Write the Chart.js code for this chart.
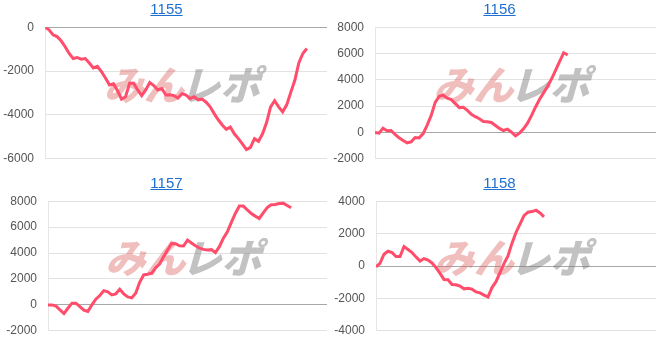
<!DOCTYPE html>
<html>
<head>
<meta charset="utf-8">
<script src="https://cdn.jsdelivr.net/npm/chart.js@4.4.0/dist/chart.umd.min.js"></script>
<style>
body{margin:0;background:#fff;font-family:Arial,"Liberation Sans",sans-serif}
#wrap{position:relative;width:666px;height:341px;overflow:hidden}
.panel{position:absolute;width:333px;height:171px}
.panel a{position:absolute;left:0;width:333px;text-align:center;color:#1f6fd0;font-size:15px;line-height:17px;text-decoration:underline;z-index:2}
.box{position:absolute;left:0;width:333px}
</style>
</head>
<body>
<div id="wrap">
  <div class="panel" style="left:0;top:0"><div class="box" style="top:9px;height:168px"><canvas id="c0"></canvas></div><a href="#" id="t0" style="top:0"></a></div>
  <div class="panel" style="left:333px;top:0"><div class="box" style="top:9px;height:168px"><canvas id="c1"></canvas></div><a href="#" id="t1" style="top:0"></a></div>
  <div class="panel" style="left:0;top:170px"><div class="box" style="top:13px;height:166px"><canvas id="c2"></canvas></div><a href="#" id="t2" style="top:4px"></a></div>
  <div class="panel" style="left:333px;top:170px"><div class="box" style="top:13px;height:166px"><canvas id="c3"></canvas></div><a href="#" id="t3" style="top:4px"></a></div>
</div>
<script>
const titles = ['1155', '1156', '1157', '1158'];

const v1155 = [0, -120, -350, -430, -620, -890, -1200, -1430, -1380, -1460,
  -1430, -1630, -1860, -1780, -2020, -2320, -2630, -2580, -2900, -3280,
  -3170, -2550, -2550, -2860, -3120, -2860, -2520, -2660, -2860, -2800,
  -3090, -3080, -3120, -3230, -3030, -3090, -3260, -3170, -3310, -3280,
  -3420, -3630, -3940, -4220, -4460, -4660, -4550, -4860, -5080, -5320,
  -5580, -5480, -5080, -5200, -4860, -4350, -3630, -3350, -3630, -3860,
  -3540, -2970, -2430, -1630, -1200, -970];

const v1156 = [0, -50, 330, 130, 150, -150, -410, -610, -790, -710,
  -380, -410, -80, 560, 1300, 2290, 2750, 2830, 2600, 2500,
  2190, 1890, 1910, 1680, 1380, 1200, 1040, 840, 820, 760,
  530, 310, 150, 250, 30, -250, -50, 280, 710, 1300,
  1940, 2520, 3010, 3520, 4080, 4740, 5400, 6060, 5890];

const v1157 = [0, 0, -100, -380, -670, -260, 130, 130, -130, -410,
  -510, 0, 440, 720, 1100, 1000, 770, 850, 1200, 850,
  620, 540, 900, 1740, 2310, 2360, 2440, 2870, 3150, 3720,
  4230, 4740, 4720, 4560, 4540, 5000, 4770, 4560, 4380, 4280,
  4230, 4260, 4030, 4490, 5150, 5640, 6360, 7050, 7620, 7620,
  7330, 7050, 6850, 6670, 7100, 7510, 7720, 7740, 7820, 7850,
  7670, 7490];

const v1158 = [-50, 170, 730, 910, 830, 580, 580, 1200, 1020, 830,
  560, 310, 460, 370, 190, -100, -460, -830, -850, -1140,
  -1160, -1240, -1410, -1370, -1430, -1600, -1660, -1800, -1910, -1330,
  -970, -410, 150, 620, 1410, 2070, 2590, 3110, 3320, 3360,
  3440, 3270, 3030];

const series = [v1155, v1156, v1157, v1158];
const yMins = [-6000, -2000, -2000, -4000];
const yMaxs = [0, 8000, 8000, 4000];
const xSlots = 70;

// faint logo behind the line
const watermark = {
    id: 'watermark',
    beforeDatasetsDraw(chart) {
        const { ctx, chartArea: a } = chart;
        const cx = (a.left + a.right) / 2;
        const cy = a.top + a.height * 0.44;
        ctx.save();
        ctx.font = '900 40px "Noto Sans CJK JP"';
        ctx.textBaseline = 'middle';
        const w1 = ctx.measureText('みん').width - 4;
        const w2 = ctx.measureText('レポ').width;
        ctx.translate(cx - (w1 + w2) / 2, cy);
        ctx.transform(1, 0, -0.28, 1, 0, 0);
        ctx.fillStyle = 'rgba(222,100,100,0.42)';
        ctx.fillText('みん', 0, 0);
        ctx.fillStyle = 'rgba(120,120,120,0.45)';
        ctx.fillText('レポ', w1, 0);
        ctx.restore();
    }
};

const axisWidths = [45, 42, 48, 43];
const padRight = [6, 10, 6, 10];

series.forEach((vals, i) => {
    document.getElementById('t' + i).textContent = titles[i];
    new Chart(document.getElementById('c' + i), {
        type: 'line',
        data: {
            datasets: [{
                data: vals.map((v, k) => ({ x: k, y: v })),
                borderColor: '#ff4d6b',
                borderWidth: 3,
                pointRadius: 0,
                tension: 0,
                fill: false
            }]
        },
        options: {
            responsive: true,
            maintainAspectRatio: false,
            animation: false,
            layout: { padding: { left: 0, right: padRight[i], top: 0, bottom: 0 } },
            plugins: { legend: { display: false }, tooltip: { enabled: false } },
            scales: {
                x: { type: 'linear', min: 0, max: xSlots, display: false },
                y: {
                    min: yMins[i],
                    max: yMaxs[i],
                    afterFit: (s) => { s.width = axisWidths[i]; },
                    ticks: {
                        stepSize: 2000,
                        padding: 11,
                        color: '#555',
                        format: { useGrouping: false },
                        font: { family: 'Arial, "Liberation Sans"', size: 12 }
                    },
                    grid: {
                        drawTicks: false,
                        color: (c) => c.tick && c.tick.value === 0 ? '#a8a8a8' : '#e2e2e2'
                    },
                    border: { display: true, color: '#e6e6e6' }
                }
            }
        },
        plugins: [watermark]
    });
});
</script>
</body>
</html>
